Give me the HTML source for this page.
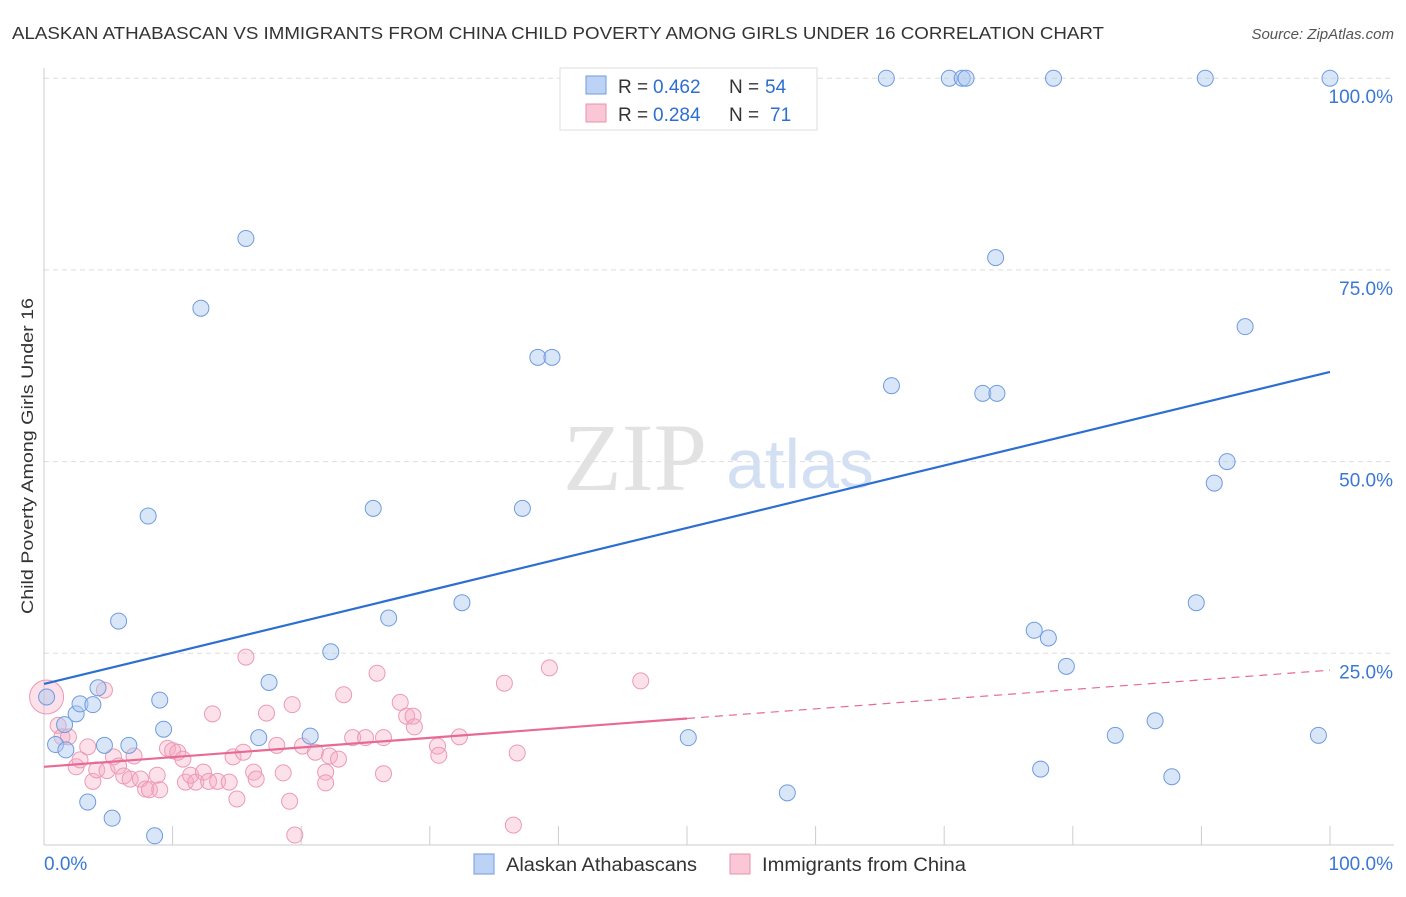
<!DOCTYPE html>
<html><head><meta charset="utf-8"><style>
body{margin:0;background:#fff;font-family:"Liberation Sans",sans-serif;}
</style></head><body>
<svg id="chart" width="1406" height="892" xmlns="http://www.w3.org/2000/svg" font-family="Liberation Sans, sans-serif">
<text x="12" y="39" font-size="17.5" fill="#333" textLength="1092" lengthAdjust="spacingAndGlyphs">ALASKAN ATHABASCAN VS IMMIGRANTS FROM CHINA CHILD POVERTY AMONG GIRLS UNDER 16 CORRELATION CHART</text>
<text x="1394" y="39" font-size="15" fill="#555" text-anchor="end" font-style="italic">Source: ZipAtlas.com</text>
<text transform="translate(33,456) rotate(-90)" font-size="17" fill="#333" text-anchor="middle" textLength="316" lengthAdjust="spacingAndGlyphs">Child Poverty Among Girls Under 16</text>
<g>
<text x="635" y="490" font-size="96" fill="#e2e2e2" font-family="Liberation Serif, serif" text-anchor="middle">ZIP</text>
<text x="800" y="488" font-size="70" fill="#d3e0f3" text-anchor="middle">atlas</text>
</g>
<g id="grid"></g><g id="axes"></g><g id="pts"></g><g id="lines"></g>
<g>
<rect x="560" y="68" width="257" height="62" fill="#fff" stroke="#ddd"/>
<rect x="586" y="76" width="20" height="18" fill="#bcd3f5" stroke="#6f9be0"/>
<rect x="586" y="104" width="20" height="18" fill="#f9c7d6" stroke="#e992ad"/>
<text x="618" y="93" font-size="19" fill="#333">R =</text>
<text x="653" y="93" font-size="19" fill="#2c6fd1">0.462</text>
<text x="729" y="93" font-size="19" fill="#333">N =</text>
<text x="765" y="93" font-size="19" fill="#2c6fd1">54</text>
<text x="618" y="121" font-size="19" fill="#333">R =</text>
<text x="653" y="121" font-size="19" fill="#2c6fd1">0.284</text>
<text x="729" y="121" font-size="19" fill="#333">N =</text>
<text x="770" y="121" font-size="19" fill="#2c6fd1">71</text>
</g>
<g>
<rect x="474" y="854" width="20" height="20" fill="#bcd3f5" stroke="#6f9be0"/>
<text x="506" y="871" font-size="19" fill="#333" textLength="191" lengthAdjust="spacingAndGlyphs">Alaskan Athabascans</text>
<rect x="730" y="854" width="20" height="20" fill="#f9c7d6" stroke="#e992ad"/>
<text x="762" y="871" font-size="19" fill="#333" textLength="204" lengthAdjust="spacingAndGlyphs">Immigrants from China</text>
</g>
</svg>
<script>
const blueX=[0.2,0.9,1.7,1.6,2.5,2.8,3.8,4.2,3.4,4.7,5.3,5.8,6.6,8.1,8.6,9.0,9.3,12.2,15.7,16.7,17.5,20.7,22.3,25.6,26.8,32.5,37.2,38.4,39.5,50.1,57.8,65.5,65.9,70.4,71.4,71.7,73.0,74.0,74.1,77.0,77.5,78.1,78.5,79.5,83.3,86.4,87.7,89.6,90.3,91.0,92.0,93.4,99.1,100];
const blueY=[19.3,13.1,12.4,15.7,17.1,18.4,18.3,20.5,5.6,13.0,3.5,29.2,13.0,42.9,1.2,18.9,15.1,70.0,79.1,14.0,21.2,14.2,25.2,43.9,29.6,31.6,43.9,63.6,63.6,14.0,6.8,100,59.9,100,100,100,58.9,76.6,58.9,28.0,9.9,27.0,100,23.3,14.3,16.2,8.9,31.6,100,47.2,50.0,67.6,14.3,100];
const pinkX=[0.2,1.1,1.4,1.9,2.5,2.8,3.4,3.8,4.1,4.7,4.9,5.4,5.8,6.2,6.7,7.0,7.5,7.9,8.2,8.8,9.0,9.6,10.0,10.4,10.8,11.0,11.4,11.8,12.4,12.8,13.1,13.5,14.4,14.7,15.0,15.5,15.7,16.3,16.5,17.3,18.1,18.6,19.1,19.3,19.5,20.1,21.1,21.9,21.9,22.2,22.9,23.3,24.0,25.0,25.9,26.4,26.4,27.7,28.2,28.7,28.8,30.6,30.7,32.3,35.8,36.5,36.8,39.3,46.4];
const pinkY=[19.3,15.6,14.1,14.1,10.2,11.1,12.8,8.3,9.8,20.2,9.7,11.5,10.3,9.0,8.6,11.6,8.6,7.3,7.2,9.1,7.2,12.6,12.3,12.1,11.2,8.2,9.1,8.2,9.5,8.3,17.1,8.3,8.2,11.5,6.0,12.1,24.5,9.5,8.6,17.2,13.0,9.4,5.7,18.3,1.3,12.9,12.1,9.5,8.1,11.6,11.2,19.6,14.0,14.0,22.4,14.0,9.3,18.6,16.8,16.8,15.4,12.9,11.7,14.1,21.1,2.6,12.0,23.1,21.4];
const blueFit=[21.0,61.7], pinkFit=[10.2,22.8];
const yTicks=[25,50,75,100];
const NS="http://www.w3.org/2000/svg";
const X=v=>44+v*12.86, Y=v=>845-v*7.668;
function mk(t,a,p){const e=document.createElementNS(NS,t);for(const k in a)e.setAttribute(k,a[k]);p.appendChild(e);return e;}
const grid=document.getElementById('grid'),axes=document.getElementById('axes'),pts=document.getElementById('pts'),lines=document.getElementById('lines');
yTicks.forEach(t=>{const l=mk('line',{x1:44,x2:1394,y1:Y(t),y2:Y(t),stroke:'#ddd','stroke-dasharray':'5,4'},grid);


const tx=mk('text',{x:1393,y:Y(t)+25,'font-size':19,fill:'#3a78d4','text-anchor':'end'},axes);tx.textContent=t+'.0%';

});
const ax=mk('line',{x1:44,x2:1394,y1:845,y2:845,stroke:'#ccc'},axes);


const ay=mk('line',{x1:44,x2:44,y1:68,y2:845,stroke:'#ccc'},axes);


for(let i=1;i<=10;i++){const tk=mk('line',{x1:X(i*10),x2:X(i*10),y1:826,y2:845,stroke:'#ccc'},axes);

}
[['0.0%',44,'start'],['100.0%',1393,'end']].forEach(d=>{const t=mk('text',{x:d[1],y:870,'font-size':19,fill:'#3a78d4','text-anchor':d[2]},axes);t.textContent=d[0];

});
pinkX.forEach((v,i)=>{const c=mk('circle',{cx:X(v),cy:Y(pinkY[i]),r:i==0?17:8,fill:'rgba(245,170,195,0.35)',stroke:'#ec9ab4','stroke-width':1},pts);

});
blueX.forEach((v,i)=>{const c=mk('circle',{cx:X(v),cy:Y(blueY[i]),r:8,fill:'rgba(170,200,240,0.45)',stroke:'#6f9be0','stroke-width':1},pts);

});
const bl=mk('line',{x1:X(0),y1:Y(blueFit[0]),x2:X(100),y2:Y(blueFit[1]),stroke:'#2c6fd1','stroke-width':2.2},lines);


const pm=pinkFit[0]+(pinkFit[1]-pinkFit[0])*0.5;
const pl=mk('line',{x1:X(0),y1:Y(pinkFit[0]),x2:X(50),y2:Y(pm),stroke:'#e66a94','stroke-width':2.2},lines);


const pd=mk('line',{x1:X(50),y1:Y(pm),x2:X(100),y2:Y(pinkFit[1]),stroke:'#e66a94','stroke-width':1.2,'stroke-dasharray':'8,6'},lines);


</script>
</body></html>
